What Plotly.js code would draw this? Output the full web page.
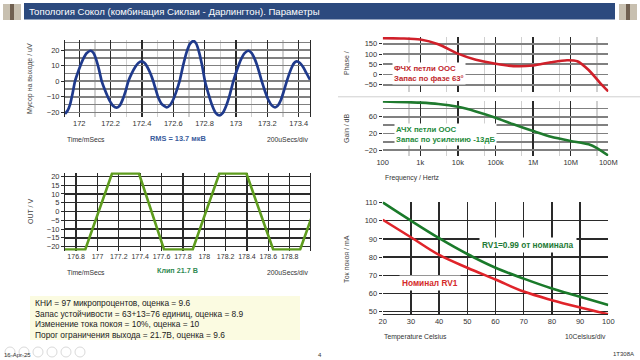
<!DOCTYPE html>
<html><head><meta charset="utf-8">
<script src="https://cdn.plot.ly/plotly-3.0.1.min.js"></script>
<style>html,body{margin:0;padding:0;background:#fff;}#c{width:640px;height:360px;}</style>
</head><body><div id="c"></div>
<script>
// ---- data ----
const noiseT = [171.909,171.925,171.941,171.957,171.973,171.998,172.023,172.048,172.073,172.091,172.108,172.126,172.143,172.167,172.191,172.215,172.239,172.258,172.276,172.295,172.313,172.334,172.356,172.377,172.398,172.417,172.435,172.454,172.472,172.49,172.504,172.525,172.558,172.578,172.599,172.62,172.64,172.662,172.684,172.706,172.728,172.747,172.765,172.784,172.802,172.825,172.848,172.87,172.893,172.916,172.938,172.961,172.983,173.007,173.031,173.055,173.079,173.1,173.121,173.143,173.164,173.185,173.206,173.228,173.249,173.268,173.287,173.305,173.324,173.34,173.356,173.371,173.387,173.408,173.429,173.45,173.472];
const noiseV = [-21,-19,-15,-8,0,7.5,13.9,18.1,19.6,18.1,13.9,7.5,0,-6.5,-12,-15.7,-17,-15.7,-12,-6.5,0,4.9,9,11.7,12.7,11.7,9,4.9,0,-6,-10.5,-14.5,-16.8,-15.5,-11.9,-6.4,0,9.9,18.4,24,26,24,18.4,9.9,0,-8.4,-15.6,-20.3,-22,-20.3,-15.6,-8.4,0,7.5,13.9,18.1,19.6,18.1,13.9,7.5,0,-6.4,-11.9,-15.5,-16.8,-15.5,-11.9,-6.4,0,4.9,9,11.7,12.7,11.7,9,5,1];
const clipT = [176.696,176.885,177.137,177.388,177.624,177.891,178.142,178.394,178.646,178.897,179.005];
const clipV = [-21.7,-21.7,21.7,21.7,-21.7,-21.7,21.7,21.7,-21.7,-21.7,-3.3];
const clipTicks = [176.8,177,177.2,177.4,177.6,177.8,178,178.2,178.4,178.6,178.8];
const clipTickText = ['176.8','177','177.2','177.4','177.6','177.8','178','178.2','178.4','178.6','178.8'];
const phaseF = [100,300,1e3,3e3,1e4,3e4,1e5,3e5,1e6,3e6,8e6,1.5e7,3e7,6e7,1e8];
const phaseV = [177,176,171,148,102,72,53,41,44,60,70,65,22,-40,-82];
const gainF = [100,1e3,3e3,1e4,3e4,1e5,3e5,1e6,3e6,1e7,3e7,5e7,1e8];
const gainV = [97,94,91,84,73,58,42,26,12,2,-6,-15,-33];
const tempC = [20,30,40,50,60,70,80,90,100];
const idleRV099 = [110,100,90.4,81.7,74.2,68.2,62.8,58.3,53.7];
const idleNominal = [100.5,90.9,81.2,74.2,67.7,61.1,56.4,52.4,48.7];
const freqTickVals = [100,1e3,1e4,1e5,1e6,1e7,1e8];
const freqTickText = ['100','1k','10k','100k','1M','10M','100M'];
const freqMinor = [500,5e3,5e4,5e5,5e6,5e7];
const infoLines = [
 'КНИ = 97 микропроцентов, оценка = 9.6',
 'Запас устойчивости = 63+13=76 единиц, оценка = 8.9',
 'Изменение тока покоя = 10%, оценка = 10',
 'Порог ограничения выхода = 21.7В, оценка = 9.6'
];

// ---- helpers ----
const W=640,H=360;
const dx=p=>p/W, dy=p=>1-p/H;
const FONT='Liberation Sans, Arial, sans-serif';
const tickF={family:FONT,size:7.5,color:'#333'};
const dark='#2a2a2a', gray='#808080', light='#d0d0d0';

const traces=[
 {x:noiseT,y:noiseV,xaxis:'x',yaxis:'y',mode:'lines',line:{color:'#1f3a8c',width:2.7,shape:'spline',smoothing:0.5},hoverinfo:'skip'},
 {x:clipT,y:clipV,xaxis:'x2',yaxis:'y2',mode:'lines',line:{color:'#5e9c1e',width:2.6},hoverinfo:'skip'},
 {x:phaseF,y:phaseV,xaxis:'x3',yaxis:'y3',mode:'lines',line:{color:'#d0202a',width:2.6,shape:'spline',smoothing:0.8},hoverinfo:'skip'},
 {x:gainF,y:gainV,xaxis:'x4',yaxis:'y4',mode:'lines',line:{color:'#1f7a2e',width:2.6,shape:'spline',smoothing:0.6},hoverinfo:'skip'},
 {x:tempC,y:idleRV099,xaxis:'x5',yaxis:'y5',mode:'lines',line:{color:'#1a7a2a',width:2.6,shape:'spline'},hoverinfo:'skip'},
 {x:tempC,y:idleNominal,xaxis:'x5',yaxis:'y5',mode:'lines',line:{color:'#e0242a',width:2.6,shape:'spline'},hoverinfo:'skip'}
];

function xa(dom,anchor,extra){return Object.assign({domain:[dx(dom[0]),dx(dom[1])],anchor:anchor,tickfont:tickF,tickangle:0,zeroline:false,showline:false,ticks:'',fixedrange:true},extra);}
function ya(dom,anchor,extra){return Object.assign({domain:[dy(dom[1]),dy(dom[0])],anchor:anchor,tickfont:tickF,zeroline:false,ticks:'outside',ticklen:3,tickcolor:dark,fixedrange:true},extra);}

const layout={
 width:W,height:H,margin:{l:0,r:0,t:0,b:0},paper_bgcolor:'#fff',plot_bgcolor:'#fff',showlegend:false,
 font:{family:FONT},
 xaxis:xa([65,310],'y',{range:[171.909,173.472],tick0:172,dtick:0.2,gridcolor:dark,gridwidth:1.2,minor:{dtick:0.1,showgrid:true,gridcolor:light,gridwidth:1.2}}),
 yaxis:ya([40,117],'x',{range:[-23,26.5],tick0:0,dtick:10,gridcolor:gray,gridwidth:1.6,showline:true,linecolor:dark,mirror:true,minor:{dtick:5,showgrid:true,gridcolor:gray,gridwidth:1.6}}),
 xaxis2:xa([65,310],'y2',{range:[176.696,178.99],tickmode:'array',tickvals:clipTicks,ticktext:clipTickText,gridcolor:dark,gridwidth:1.3,tickfont:{family:FONT,size:7,color:'#333'}}),
 yaxis2:ya([172.5,250.5],'x2',{range:[-22.2,22.2],tick0:0,dtick:5,gridcolor:dark,gridwidth:1.3,showline:true,linecolor:dark,mirror:true}),
 xaxis3:xa([382.7,608.3],'y3',{type:'log',range:[2,8],tickvals:freqTickVals,showticklabels:false,gridcolor:dark,gridwidth:1.3,minor:{tickmode:'array',tickvals:freqMinor,showgrid:true,gridcolor:light,gridwidth:1.2}}),
 yaxis3:ya([37,92],'x3',{range:[-85,183],tick0:0,dtick:50,gridcolor:gray,gridwidth:1.6}),
 xaxis4:xa([382.7,608.3],'y4',{type:'log',range:[2,8],tickvals:freqTickVals,ticktext:freqTickText,gridcolor:dark,gridwidth:1.3,minor:{tickmode:'array',tickvals:freqMinor,showgrid:true,gridcolor:light,gridwidth:1.2}}),
 yaxis4:ya([101,156],'x4',{range:[-34,98],tick0:-20,dtick:40,gridcolor:gray,gridwidth:1.6,minor:{tick0:-20,dtick:20,showgrid:true,gridcolor:gray,gridwidth:1.6}}),
 xaxis5:xa([382.7,608.3],'y5',{range:[20,100],dtick:10,gridcolor:dark,gridwidth:1.3,showline:true,linecolor:dark}),
 yaxis5:ya([201.5,314],'x5',{range:[48.8,110.5],tick0:60,dtick:10,gridcolor:dark,gridwidth:1.3}),
 shapes:[],annotations:[]
};

const S=layout.shapes, A=layout.annotations;
function rect(x0,y0,x1,y1,fill,line){S.push({type:'rect',xref:'paper',yref:'paper',x0:dx(x0),x1:dx(x1),y0:dy(y1),y1:dy(y0),fillcolor:fill,line:line||{width:0},layer:'below'});}
function txt(t,x,y,o){A.push(Object.assign({text:t,xref:'paper',yref:'paper',x:dx(x),y:dy(y),showarrow:false,xanchor:'left',yanchor:'middle',font:{family:FONT,size:7,color:'#333'}},o||{}));}

// title bar
rect(24,3,615,19.5,'#2c4a7e');
rect(3,4,21,20,'#c8c0b0');rect(10,4,14,20,'#706050');
rect(619,4,637,20,'#c8c0b0');rect(626,4,630,20,'#706050');
txt('Топология Сокол (комбинация Сиклаи - Дарлингтон). Параметры',27,11.5,{font:{family:FONT,size:9.6,color:'#ffffff'}});

// separator between phase and gain
S.push({type:'line',xref:'paper',yref:'paper',x0:dx(338),x1:dx(640),y0:dy(96.8),y1:dy(96.8),line:{color:'#cfcfcf',width:1}});

// info box
rect(30,296,300,340,'#fbfbe1');
infoLines.forEach((l,i)=>txt(l,33,303+i*10.7,{font:{family:FONT,size:8.4,color:'#222'}}));

// toolbar circles
[10,24,38,52,66,80].forEach(cx=>S.push({type:'circle',xref:'paper',yref:'paper',x0:dx(cx-5),x1:dx(cx+5),y0:dy(357),y1:dy(347),line:{color:'#dadada',width:1}}));

// panel 1 texts
txt('Мусор на выходе / uV',30,79,{textangle:-90,xanchor:'center',font:{family:FONT,size:7,color:'#444'}});
txt('Time/mSecs',65,139,{font:{family:FONT,size:6.8,color:'#333'}});
txt('<b>RMS = 13.7 мкВ</b>',148,138,{font:{family:FONT,size:7.4,color:'#3a5c9c'}});
txt('200uSecs/div',310,139,{xanchor:'right',font:{family:FONT,size:6.8,color:'#333'}});
// panel 2 texts
txt('OUT / V',30,212,{textangle:-90,xanchor:'center',font:{family:FONT,size:7,color:'#444'}});
txt('Time/mSecs',65,272,{font:{family:FONT,size:6.8,color:'#333'}});
txt('<b>Клип 21.7 В</b>',155,270,{font:{family:FONT,size:7.2,color:'#2f8a52'}});
txt('200uSecs/div',310,272,{xanchor:'right',font:{family:FONT,size:6.8,color:'#333'}});
// bode texts
txt('Phase /',346,63,{textangle:-90,xanchor:'center',font:{family:FONT,size:7,color:'#444'}});
txt('Gain / dB',346,128,{textangle:-90,xanchor:'center',font:{family:FONT,size:7,color:'#444'}});
txt('Frequency / Hertz',383,178,{font:{family:FONT,size:6.8,color:'#333'}});
txt('<b>ФЧХ петли ООС</b><br><b>Запас по фазе 63°</b>',392,73.5,{align:'left',bgcolor:'#ffffff',borderpad:1,font:{family:FONT,size:7.8,color:'#c0282d'}});
txt('<b>АЧХ петли ООС</b><br><b>Запас по усилению -13дБ</b>',394,134,{align:'left',bgcolor:'#ffffff',borderpad:1,font:{family:FONT,size:7.8,color:'#1e8a3c'}});
// temperature texts
txt('Ток покоя / mA',346,259,{textangle:-90,xanchor:'center',font:{family:FONT,size:7,color:'#444'}});
txt('Temperature Celsius',382,336.5,{font:{family:FONT,size:6.8,color:'#333'}});
txt('10Celsius/div',608,336.5,{xanchor:'right',font:{family:FONT,size:6.8,color:'#333'}});
txt('<b>Номинал RV1</b>',399,283,{bgcolor:'#ffffff',borderpad:2,font:{family:FONT,size:8.3,color:'#d42a2a'}});
txt('<b>RV1=0.99 от номинала</b>',479,245,{bgcolor:'#ffffff',borderpad:2,font:{family:FONT,size:8.3,color:'#1e7a36'}});
// footer
txt('16-Apr-25',2,355,{font:{family:FONT,size:6,color:'#333'}});
txt('4',320,355,{xanchor:'center',font:{family:FONT,size:6,color:'#333'}});
txt('1T308A',636,354,{xanchor:'right',font:{family:FONT,size:6,color:'#333'}});

Plotly.newPlot('c',traces,layout,{staticPlot:true,displayModeBar:false});
</script></body></html>
